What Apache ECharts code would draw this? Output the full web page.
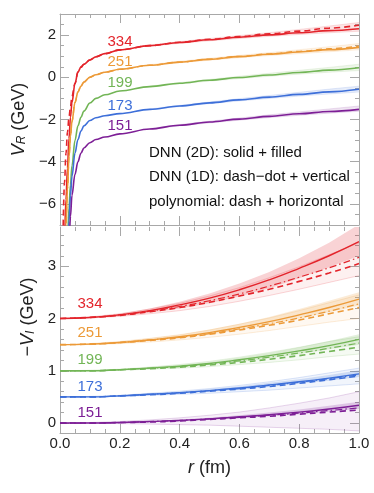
<!DOCTYPE html>
<html>
<head>
<meta charset="utf-8">
<script src="https://cdn.jsdelivr.net/npm/echarts@6/dist/echarts.min.js"></script>
<style>
  html, body { margin: 0; padding: 0; background: #fff; }
  #chart { width: 374px; height: 493px; }
</style>
</head>
<body>
<div id="chart"></div>
<script>
const temps = ["334", "251", "199", "173", "151"];
const colors = ["#e3242b", "#ec9a38", "#72b556", "#3d6fd9", "#7d1f96"];

// V_R panel
const rRe = [0.01, 0.015, 0.02, 0.025, 0.03, 0.035, 0.04, 0.05, 0.06, 0.07, 0.08, 0.1, 0.12, 0.15, 0.2, 0.3, 0.4, 0.5, 0.6, 0.7, 0.8, 0.9, 1.0];
const reSolid = [
  [-11, -7.6, -5.8, -4.3, -2.9, -1.9, -1.2, -0.3, 0.25, 0.48, 0.62, 0.82, 0.97, 1.12, 1.3, 1.5, 1.65, 1.78, 1.9, 2.01, 2.11, 2.21, 2.3],
  [-14, -9, -7.0, -5.3, -3.8, -2.8, -2.1, -1.2, -0.7, -0.42, -0.22, 0.0, 0.12, 0.24, 0.38, 0.57, 0.72, 0.85, 0.98, 1.09, 1.2, 1.31, 1.42],
  [-20, -13, -9.5, -7.8, -6.2, -5.1, -4.2, -3.0, -2.3, -1.9, -1.6, -1.22, -1.0, -0.83, -0.65, -0.44, -0.28, -0.14, -0.01, 0.11, 0.23, 0.34, 0.45],
  [-22, -15, -11, -8.6, -6.8, -5.6, -4.7, -3.6, -2.95, -2.55, -2.3, -2.05, -1.92, -1.82, -1.72, -1.52, -1.36, -1.21, -1.07, -0.94, -0.81, -0.69, -0.57],
  [-25, -17, -12.5, -10, -8, -6.6, -5.6, -4.6, -4.0, -3.6, -3.35, -3.1, -2.95, -2.83, -2.68, -2.45, -2.27, -2.12, -1.98, -1.85, -1.73, -1.62, -1.52]
];
const reDashRed = [-7.5, -5.0, -3.6, -2.6, -1.9, -1.4, -0.9, -0.3, 0.25, 0.48, 0.62, 0.82, 0.97, 1.12, 1.3, 1.5, 1.66, 1.8, 1.93, 2.06, 2.19, 2.33, 2.47];
const reDashOrange = [-14, -9, -7.0, -5.3, -3.8, -2.8, -2.1, -1.2, -0.7, -0.42, -0.22, 0.0, 0.12, 0.24, 0.38, 0.57, 0.72, 0.86, 0.99, 1.11, 1.23, 1.35, 1.48];
const rReBand = [0.3, 0.4, 0.5, 0.6, 0.7, 0.8, 0.9, 1.0];
const reBandLo = [
  [1.47, 1.61, 1.73, 1.84, 1.94, 2.03, 2.11, 2.18],
  [0.55, 0.69, 0.81, 0.93, 1.03, 1.12, 1.21, 1.3],
  [-0.46, -0.31, -0.18, -0.06, 0.05, 0.15, 0.24, 0.32],
  [-1.54, -1.39, -1.25, -1.12, -1.0, -0.89, -0.79, -0.7],
  [-2.47, -2.3, -2.16, -2.03, -1.91, -1.8, -1.7, -1.61]
];
const reBandHi = [
  [1.53, 1.69, 1.84, 1.98, 2.12, 2.27, 2.43, 2.6],
  [0.6, 0.76, 0.9, 1.04, 1.17, 1.31, 1.45, 1.6],
  [-0.42, -0.25, -0.1, 0.05, 0.19, 0.33, 0.47, 0.62],
  [-1.5, -1.33, -1.17, -1.01, -0.86, -0.71, -0.56, -0.42],
  [-2.43, -2.24, -2.08, -1.93, -1.78, -1.64, -1.5, -1.36]
];

// -V_I panel
const rIm = [0, 0.1, 0.2, 0.3, 0.4, 0.5, 0.6, 0.7, 0.8, 0.9, 1.0];
const imSolid = [
  [2.0, 2.02, 2.07, 2.15, 2.26, 2.39, 2.55, 2.74, 2.96, 3.2, 3.47],
  [1.5, 1.51, 1.54, 1.59, 1.65, 1.73, 1.83, 1.94, 2.07, 2.21, 2.37],
  [1.0, 1.0, 1.02, 1.05, 1.09, 1.14, 1.21, 1.29, 1.38, 1.48, 1.6],
  [0.5, 0.5, 0.52, 0.55, 0.58, 0.62, 0.67, 0.73, 0.79, 0.86, 0.94],
  [0, 0, 0.01, 0.03, 0.05, 0.08, 0.12, 0.16, 0.21, 0.27, 0.34]
];
const imDashDot = [
  [2.0, 2.02, 2.07, 2.14, 2.23, 2.34, 2.47, 2.62, 2.79, 2.97, 3.17],
  [1.5, 1.51, 1.54, 1.59, 1.64, 1.71, 1.8, 1.9, 2.01, 2.14, 2.28],
  [1.0, 1.0, 1.02, 1.05, 1.08, 1.13, 1.19, 1.26, 1.34, 1.43, 1.53],
  [0.5, 0.5, 0.52, 0.55, 0.58, 0.62, 0.66, 0.72, 0.78, 0.85, 0.92],
  [0, 0, 0.01, 0.03, 0.05, 0.08, 0.11, 0.15, 0.19, 0.24, 0.29]
];
const imDash = [
  [2.0, 2.02, 2.06, 2.13, 2.21, 2.31, 2.43, 2.56, 2.71, 2.87, 3.05],
  [1.5, 1.51, 1.54, 1.58, 1.63, 1.7, 1.78, 1.87, 1.97, 2.09, 2.21],
  [1.0, 1.0, 1.02, 1.04, 1.07, 1.11, 1.16, 1.22, 1.29, 1.37, 1.45],
  [0.5, 0.5, 0.52, 0.54, 0.57, 0.61, 0.65, 0.7, 0.76, 0.83, 0.9],
  [0, 0, 0.01, 0.02, 0.04, 0.07, 0.1, 0.13, 0.17, 0.21, 0.25]
];
const imBandLo = [
  [2.0, 2.01, 2.05, 2.11, 2.19, 2.29, 2.42, 2.58, 2.77, 2.98, 3.2],
  [1.5, 1.5, 1.53, 1.57, 1.62, 1.69, 1.78, 1.88, 2.0, 2.12, 2.25],
  [1.0, 1.0, 1.01, 1.04, 1.07, 1.11, 1.17, 1.24, 1.32, 1.41, 1.5],
  [0.5, 0.5, 0.51, 0.54, 0.57, 0.6, 0.64, 0.69, 0.75, 0.81, 0.88],
  [0, 0, 0, 0.02, 0.04, 0.06, 0.09, 0.13, 0.17, 0.22, 0.27]
];
const imBandHi = [
  [2.0, 2.03, 2.09, 2.19, 2.32, 2.48, 2.67, 2.89, 3.15, 3.45, 3.8],
  [1.5, 1.52, 1.56, 1.62, 1.69, 1.79, 1.9, 2.03, 2.18, 2.34, 2.5],
  [1.0, 1.01, 1.03, 1.07, 1.11, 1.17, 1.25, 1.34, 1.45, 1.57, 1.7],
  [0.5, 0.51, 0.53, 0.56, 0.6, 0.65, 0.7, 0.77, 0.84, 0.92, 1.01],
  [0, 0, 0.02, 0.04, 0.07, 0.1, 0.15, 0.2, 0.26, 0.33, 0.41]
];
const imHatchLo = [
  [2.0, 2.01, 2.04, 2.09, 2.15, 2.23, 2.33, 2.44, 2.56, 2.69, 2.82],
  [1.5, 1.5, 1.52, 1.55, 1.59, 1.64, 1.7, 1.77, 1.85, 1.93, 2.0],
  [1.0, 1.0, 1.01, 1.03, 1.05, 1.08, 1.12, 1.16, 1.21, 1.27, 1.32],
  [0.5, 0.5, 0.51, 0.53, 0.55, 0.57, 0.6, 0.63, 0.67, 0.71, 0.75],
  [0, 0, -0.01, -0.02, -0.03, -0.04, -0.06, -0.08, -0.1, -0.12, -0.15]
];
const imHatchHi = [
  [2.0, 2.03, 2.09, 2.18, 2.29, 2.43, 2.59, 2.78, 2.99, 3.22, 3.45],
  [1.5, 1.52, 1.56, 1.62, 1.69, 1.78, 1.89, 2.01, 2.15, 2.3, 2.45],
  [1.0, 1.01, 1.03, 1.07, 1.12, 1.18, 1.26, 1.35, 1.45, 1.56, 1.65],
  [0.5, 0.51, 0.53, 0.57, 0.61, 0.66, 0.72, 0.79, 0.87, 0.96, 1.05],
  [0, 0.01, 0.03, 0.06, 0.1, 0.15, 0.21, 0.29, 0.38, 0.48, 0.6]
];

// ticks
const reMajor = [-6, -4, -2, 0, 2];
const reMinor = [-7, -6.5, -5.5, -5, -4.5, -3.5, -3, -2.5, -1.5, -1, -0.5, 0.5, 1, 1.5, 2.5, 3];
const imMajor = [0, 1, 2, 3];
const imMinor = [0.2, 0.4, 0.6, 0.8, 1.2, 1.4, 1.6, 1.8, 2.2, 2.4, 2.6, 2.8, 3.2, 3.4, 3.6];

const legendLines = ["DNN (2D): solid + filled", "DNN (1D): dash\u2212dot + vertical", "polynomial: dash + horizontal"];

const FONT = "Liberation Sans";
const FRAME = "#a8a8a8";

const rgba = (hex, a) => {
  const n = parseInt(hex.slice(1), 16);
  return `rgba(${(n >> 16) & 255},${(n >> 8) & 255},${n & 255},${a})`;
};

const chart = echarts.init(document.getElementById("chart"));

const xAx = (gridIndex, position, withLabels, showLine) => ({
  type: "value", gridIndex, position, min: 0, max: 1, interval: 0.2,
  axisLine: { show: showLine, onZero: false, lineStyle: { color: FRAME, width: 1 } },
  axisTick: { inside: true, length: 9, lineStyle: { color: FRAME } },
  minorTick: { show: true, splitNumber: 4, length: 4, lineStyle: { color: FRAME } },
  splitLine: { show: false },
  axisLabel: {
    show: withLabels, margin: 3, fontFamily: FONT, fontSize: 15, color: "#222",
    formatter: v => v.toFixed(1)
  }
});

const yAx = (gridIndex, position, min, max, major, minor, isMajor, labels) => ({
  type: "value", gridIndex, position, min, max,
  axisLine: { show: isMajor, onZero: false, lineStyle: { color: FRAME, width: 1 } },
  axisTick: { inside: true, length: isMajor ? 9 : 4, customValues: isMajor ? major : minor, lineStyle: { color: FRAME } },
  splitLine: { show: false },
  axisLabel: {
    show: labels, customValues: major, margin: 4, fontFamily: FONT, fontSize: 15, color: "#222",
    formatter: v => String(v).replace("-", "\u2212")
  }
});

const nameStyle = {
  fontFamily: FONT, fontSize: 18, color: "#222",
  rich: {
    i: { fontStyle: "italic", fontSize: 18 },
    s: { fontStyle: "italic", fontSize: 12, verticalAlign: "bottom", lineHeight: 14 }
  }
};

const yAxes = [
  yAx(0, "left", -7, 3, reMajor, reMinor, true, true),
  yAx(0, "left", -7, 3, reMajor, reMinor, false, false),
  yAx(0, "right", -7, 3, reMajor, reMinor, true, false),
  yAx(0, "right", -7, 3, reMajor, reMinor, false, false),
  yAx(1, "left", -0.19, 3.75, imMajor, imMinor, true, true),
  yAx(1, "left", -0.19, 3.75, imMajor, imMinor, false, false),
  yAx(1, "right", -0.19, 3.75, imMajor, imMinor, true, false),
  yAx(1, "right", -0.19, 3.75, imMajor, imMinor, false, false)
];
Object.assign(yAxes[0], {
  name: "{i|V}{s|R} (GeV)", nameLocation: "middle", nameGap: 22, nameRotate: 90,
  nameTextStyle: nameStyle
});
Object.assign(yAxes[4], {
  name: "\u2212{i|V}{s|I} (GeV)", nameLocation: "middle", nameGap: 22, nameRotate: 90,
  nameTextStyle: Object.assign({}, nameStyle, { padding: [0, 0, 0, 26] })
});

const xAxes = [
  xAx(0, "bottom", false, true),
  xAx(0, "top", false, true),
  xAx(1, "bottom", true, true),
  xAx(1, "top", false, false)
];
Object.assign(xAxes[2], {
  name: "{i|r} (fm)", nameLocation: "middle", nameGap: 26,
  nameTextStyle: { fontFamily: FONT, fontSize: 18, color: "#222", rich: { i: { fontStyle: "italic", fontSize: 18 } } }
});

// filled band between two curves, drawn through the axis scales
const band = (xi, yi, rs, lo, hi, fill, edge) => ({
  type: "custom", xAxisIndex: xi, yAxisIndex: yi, clip: true, silent: true, z: 1,
  data: [[rs[0], lo[0]]],
  renderItem: (params, api) => {
    const up = rs.map((r, i) => api.coord([r, hi[i]]));
    const dn = rs.map((r, i) => api.coord([r, lo[i]]));
    const children = [{ type: "polygon", shape: { points: up.concat(dn.slice().reverse()) }, style: { fill, stroke: null } }];
    if (edge) {
      children.push({ type: "polyline", shape: { points: up }, style: { stroke: edge, lineWidth: 0.6, fill: null } });
      children.push({ type: "polyline", shape: { points: dn }, style: { stroke: edge, lineWidth: 0.6, fill: null } });
    }
    return { type: "group", children };
  }
});

const curve = (xi, yi, rs, vals, color, type, width, mono) => ({
  type: "line", xAxisIndex: xi, yAxisIndex: yi, showSymbol: false, silent: true,
  smooth: mono ? 0.35 : 0.5, smoothMonotone: mono ? "x" : null, z: 3,
  data: rs.map((r, i) => [r, vals[i]]),
  lineStyle: { color, width, type }
});

const series = [];
temps.forEach((t, k) => {
  const c = colors[k];
  series.push(band(0, 0, rReBand, reBandLo[k], reBandHi[k], rgba(c, 0.12), rgba(c, 0.22)));
  series.push(curve(0, 0, rRe, reSolid[k], c, "solid", 1.6, true));
  series.push(band(2, 4, rIm, imHatchLo[k], imHatchHi[k], rgba(c, 0.07), rgba(c, 0.3)));
  series.push(band(2, 4, rIm, imBandLo[k], imBandHi[k], rgba(c, 0.2), null));
  series.push(curve(2, 4, rIm, imDash[k], c, [6, 4], 1.6, false));
  series.push(curve(2, 4, rIm, imDashDot[k], c, [7, 3, 1.5, 3], 1.2, false));
  series.push(curve(2, 4, rIm, imSolid[k], c, "solid", 1.4, false));
});
series.push(curve(0, 0, rRe, reDashRed, colors[0], [6, 4], 1.6, true));
series.push(curve(0, 0, rRe, reDashOrange, colors[1], [6, 4], 1.4, true));

const reLabelY = [41.7, 62.3, 83.3, 106, 126];
const imLabelY = [304.3, 332.7, 360, 386.7, 412.7];
const graphic = [];
temps.forEach((t, k) => {
  graphic.push({ type: "text", x: 120, y: reLabelY[k], style: { text: t, fill: colors[k], font: `15px "${FONT}"`, align: "center", verticalAlign: "middle" } });
  graphic.push({ type: "text", x: 90, y: imLabelY[k], style: { text: t, fill: colors[k], font: `15px "${FONT}"`, align: "center", verticalAlign: "middle" } });
});
legendLines.forEach((s, i) => {
  graphic.push({ type: "text", x: 149, y: 152.7 + i * 24.5, style: { text: s, fill: "#111", font: `15px "${FONT}"`, align: "left", verticalAlign: "middle" } });
});

chart.setOption({
  animation: false,
  backgroundColor: "#fff",
  grid: [
    { left: 60, top: 14, width: 299, height: 211 },
    { left: 60, top: 227, width: 299, height: 206 }
  ],
  xAxis: xAxes,
  yAxis: yAxes,
  series,
  graphic
});
</script>
</body>
</html>
